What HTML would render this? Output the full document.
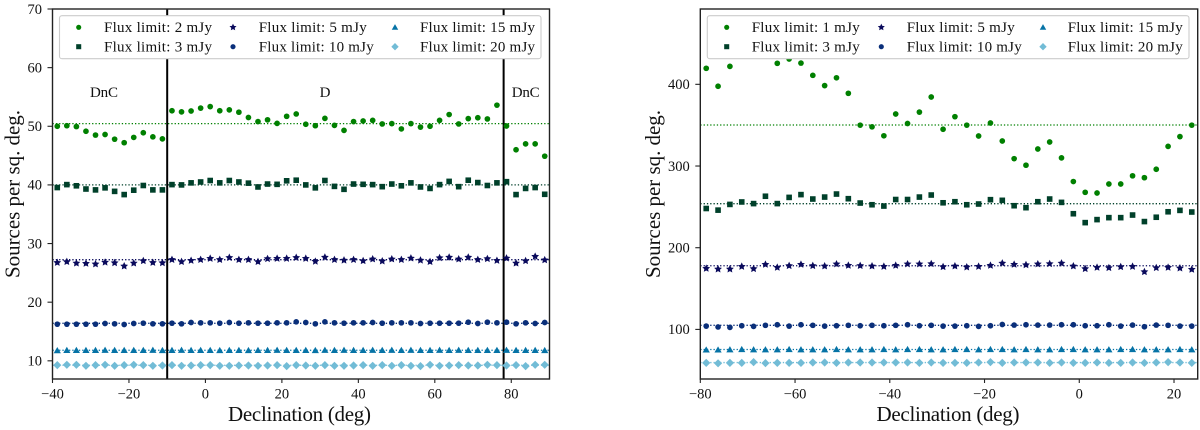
<!DOCTYPE html>
<html lang="en">
<head>
<meta charset="utf-8">
<title>Sources per square degree vs declination</title>
<style>
html,body{margin:0;padding:0;background:#fff;}
svg{display:block;}
text{font-family:"Liberation Serif",serif;fill:#111;}
.tick{font-size:14.5px;}
.leg{font-size:15px;}
.title{font-size:21px;}
.note{font-size:15px;}
</style>
</head>
<body>
<svg id="figure" width="1200" height="430" viewBox="0 0 1200 430" xmlns="http://www.w3.org/2000/svg">
  <rect x="0" y="0" width="1200" height="430" fill="#fff"/>

  <g id="left-panel">
    <g id="left-plot"></g>
    <g id="left-axes"></g>
    <text class="note" x="104" y="97" text-anchor="middle" textLength="28">DnC</text>
    <text class="note" x="325" y="97" text-anchor="middle">D</text>
    <text class="note" x="525.7" y="97" text-anchor="middle" textLength="28">DnC</text>
    <g>
      <rect x="59.5" y="15.7" width="481.5" height="43" rx="2.5" fill="#fff" stroke="#ccc" stroke-width="1.1"/>
      <g id="left-legend-markers"></g>
      <text class="leg" x="104" y="32" textLength="108">Flux limit: 2 mJy</text>
      <text class="leg" x="104" y="51.3" textLength="108">Flux limit: 3 mJy</text>
      <text class="leg" x="258.7" y="32" textLength="108">Flux limit: 5 mJy</text>
      <text class="leg" x="258.7" y="51.3" textLength="115">Flux limit: 10 mJy</text>
      <text class="leg" x="420" y="32" textLength="115">Flux limit: 15 mJy</text>
      <text class="leg" x="420" y="51.3" textLength="115">Flux limit: 20 mJy</text>
    </g>
    <text class="title" transform="translate(19.5,194) rotate(-90)" text-anchor="middle" textLength="168">Sources per sq. deg.</text>
    <text class="title" x="299.5" y="421" text-anchor="middle" textLength="143">Declination (deg)</text>
  </g>

  <g id="right-panel">
    <g id="right-plot"></g>
    <g id="right-axes"></g>
    <g>
      <rect x="707.3" y="15.7" width="481.7" height="43" rx="2.5" fill="#fff" stroke="#ccc" stroke-width="1.1"/>
      <g id="right-legend-markers"></g>
      <text class="leg" x="751.7" y="32" textLength="108">Flux limit: 1 mJy</text>
      <text class="leg" x="751.7" y="51.3" textLength="108">Flux limit: 3 mJy</text>
      <text class="leg" x="906.7" y="32" textLength="108">Flux limit: 5 mJy</text>
      <text class="leg" x="906.7" y="51.3" textLength="115">Flux limit: 10 mJy</text>
      <text class="leg" x="1067.7" y="32" textLength="115">Flux limit: 15 mJy</text>
      <text class="leg" x="1067.7" y="51.3" textLength="115">Flux limit: 20 mJy</text>
    </g>
    <text class="title" transform="translate(660,194) rotate(-90)" text-anchor="middle" textLength="168">Sources per sq. deg.</text>
    <text class="title" x="948" y="421" text-anchor="middle" textLength="143">Declination (deg)</text>
  </g>
</svg>

<script>
// ---------- Left panel data ----------
const leftDeclination = [-38.75,-36.25,-33.75,-31.25,-28.75,-26.25,-23.75,-21.25,-18.75,-16.25,-13.75,-11.25,-8.75,-6.25,-3.75,-1.25,1.25,3.75,6.25,8.75,11.25,13.75,16.25,18.75,21.25,23.75,26.25,28.75,31.25,33.75,36.25,38.75,41.25,43.75,46.25,48.75,51.25,53.75,56.25,58.75,61.25,63.75,66.25,68.75,71.25,73.75,76.25,78.75,81.25,83.75,86.25,88.75];
const left2mJy = [50.0,50.1,49.95,49.15,48.5,48.6,47.8,47.2,48.1,48.9,48.2,47.85,52.65,52.45,52.6,53.1,53.35,52.65,52.8,52.4,51.5,50.8,51.1,50.5,51.7,52.1,50.35,50.1,51.35,50.15,49.3,50.8,50.9,51.0,50.4,50.45,49.55,50.45,49.85,50.0,51.0,52.0,50.4,51.3,51.45,51.25,53.6,50.05,46.0,47.0,47.0,44.9];
const left3mJy = [39.55,40.05,39.85,39.3,39.15,39.5,38.9,38.35,39.1,39.9,39.15,39.15,40.05,40.0,40.35,40.5,40.75,40.35,40.75,40.5,40.3,39.65,40.15,40.1,40.7,40.8,40.0,39.5,40.75,39.75,39.25,40.15,40.1,40.05,39.7,40.15,39.85,40.35,39.65,39.4,40.05,40.6,39.7,40.8,40.4,39.9,40.35,40.55,38.35,39.4,39.55,38.4];
const left5mJy = [26.75,26.9,26.65,26.6,26.5,26.8,26.7,26.15,26.65,27.05,26.75,26.7,27.25,26.9,27.1,27.25,27.45,27.25,27.6,27.25,27.25,26.9,27.4,27.45,27.45,27.6,27.45,26.95,27.65,27.25,27.15,27.25,27.05,27.35,27.0,27.35,27.25,27.5,27.15,26.9,27.55,27.65,27.35,27.65,27.25,27.4,27.1,27.5,26.65,27.05,27.8,27.2];
const left10mJy = [16.25,16.25,16.25,16.25,16.25,16.36,16.31,16.19,16.36,16.42,16.31,16.31,16.42,16.31,16.53,16.48,16.48,16.42,16.53,16.42,16.48,16.42,16.42,16.48,16.48,16.65,16.53,16.31,16.65,16.48,16.42,16.48,16.48,16.53,16.42,16.48,16.48,16.48,16.36,16.42,16.42,16.42,16.42,16.59,16.36,16.59,16.48,16.59,16.31,16.48,16.36,16.53];
const left15mJy = [11.75,11.8,11.8,11.8,11.8,11.82,11.8,11.8,11.8,11.8,11.82,11.78,11.8,11.82,11.8,11.8,11.8,11.78,11.8,11.8,11.78,11.8,11.8,11.82,11.8,11.8,11.8,11.78,11.82,11.8,11.82,11.8,11.8,11.82,11.8,11.82,11.8,11.82,11.8,11.8,11.82,11.8,11.82,11.8,11.8,11.8,11.8,11.82,11.8,11.8,11.8,11.78];
const left20mJy = [9.26,9.32,9.32,9.15,9.26,9.32,9.15,9.26,9.32,9.26,9.15,9.2,9.26,9.15,9.2,9.26,9.26,9.15,9.15,9.2,9.2,9.15,9.2,9.26,9.09,9.26,9.2,9.15,9.26,9.15,9.15,9.2,9.26,9.15,9.26,9.15,9.26,9.15,9.09,9.32,9.15,9.2,9.26,9.2,9.2,9.32,9.26,9.2,9.26,9.09,9.32,9.32];
const leftMeans = [50.45,40.0,27.25,16.4,11.8,9.25];
const leftConfigBoundaries = [-10,78];
const leftXTicks = [-40,-20,0,20,40,60,80];
const leftYTicks = [10,20,30,40,50,60,70];

// ---------- Right panel data ----------
const rightDeclination = [-78.75,-76.25,-73.75,-71.25,-68.75,-66.25,-63.75,-61.25,-58.75,-56.25,-53.75,-51.25,-48.75,-46.25,-43.75,-41.25,-38.75,-36.25,-33.75,-31.25,-28.75,-26.25,-23.75,-21.25,-18.75,-16.25,-13.75,-11.25,-8.75,-6.25,-3.75,-1.25,1.25,3.75,6.25,8.75,11.25,13.75,16.25,18.75,21.25,23.75];
const right1mJy = [419.6,397.6,422,445,452,440,425.7,431,426,411,398.4,408,389,350,348,337,363.7,352,366,384.5,345,360.4,350,336.7,352.7,330.6,309,301,320.8,329.4,310,281,267.8,267,278,278,288,285.7,296,324,336,350];
const right3mJy = [248,246,253,256,254,263,254,261.6,265,259.6,262,265.7,260,254.7,252.6,251,259,259,262,264.5,255,256.3,252.6,253.5,258.8,258,251.4,249,256.3,259.6,255.5,241.6,230.7,234.4,236.8,236.8,240,232,237.3,244,245.7,243.7];
const right5mJy = [174.6,173.8,173.8,177,174.2,179.5,175.8,177.9,179.5,177.9,177.5,180,178.3,178,177.5,177,178.3,180,180,180.3,176.6,177.5,176.2,177,178.3,181,179.5,179,180,180.3,181,177.5,174.2,175.8,175.4,176.6,177,170.5,175.4,175.8,175,173.4];
const right10mJy = [104,103,102.5,104.5,103.7,105,105.7,104,105.7,105,104,104.5,105,104.5,105,104.5,105,105.7,104.5,105,104,104,104.5,103.7,104.5,106,105.3,105.7,105.3,105.3,105.7,105.7,104.5,104.5,105.7,104,105.3,103.3,105.3,105,104,104];
const right15mJy = [75,75,75.2,75.5,75.2,75.2,75.2,75.5,75.2,75.2,75.2,75.5,75.2,75.2,75.2,75.5,75.2,75.5,75.5,75.2,75.2,75.5,75.5,75.2,75.5,75.5,75.2,75.5,75.2,75.2,75.5,75.5,75.2,75.2,75.2,75.5,75.5,75.2,75.2,75.2,75.5,75.2];
const right20mJy = [59,58.5,59,59,60,58.7,59,59,59,59.5,59.5,59,59.5,59.5,59.5,59.5,59.5,59.5,59,59.5,59,59,59,59.5,60,59,59.5,59.5,59.5,59,59.5,59,59,59.5,59,59,59.5,59,59.5,60,59.5,59];
const rightMeans = [350.2,253.9,177.9,105,75.4,59.4];
const rightXTicks = [-80,-60,-40,-20,0,20];
const rightYTicks = [100,200,300,400];

// ---------- Styling (not data) ----------
const seriesColors = ['#008000','#00402a','#0a0a5c','#0a2f7a','#0673a6','#72bcd6'];
const seriesShapes = ['circle','square','star','hexagon','triangle','diamond'];
const seriesKeys = ['flux-a','flux-b','flux-5mjy','flux-10mjy','flux-15mjy','flux-20mjy'];
const SVGNS = 'http://www.w3.org/2000/svg';

function linearScale(d0, d1, r0, r1) {
  return function (v) { return r0 + (v - d0) * (r1 - r0) / (d1 - d0); };
}
function shapeEl(shape, cx, cy, color, scale) {
  let el;
  const k = scale || 1;
  if (shape === 'circle' || shape === 'hexagon') {
    el = document.createElementNS(SVGNS, 'circle');
    el.setAttribute('cx', cx);
    el.setAttribute('cy', cy);
    el.setAttribute('r', 2.85 * k);
  } else if (shape === 'square') {
    el = document.createElementNS(SVGNS, 'rect');
    el.setAttribute('x', cx - 2.8 * k);
    el.setAttribute('y', cy - 2.8 * k);
    el.setAttribute('width', 5.6 * k);
    el.setAttribute('height', 5.6 * k);
  } else {
    let pts = [];
    if (shape === 'triangle') {
      pts = [[cx, cy - 3.5 * k], [cx + 3.6 * k, cy + 2.7 * k], [cx - 3.6 * k, cy + 2.7 * k]];
    } else if (shape === 'diamond') {
      pts = [[cx, cy - 4.1 * k], [cx + 4.1 * k, cy], [cx, cy + 4.1 * k], [cx - 4.1 * k, cy]];
    } else {
      for (let i = 0; i < 10; i++) {
        const r = (i % 2 === 0 ? 4.1 : 2) * k;
        const a = -Math.PI / 2 + i * Math.PI / 5;
        pts.push([cx + r * Math.cos(a), cy + r * Math.sin(a)]);
      }
    }
    el = document.createElementNS(SVGNS, 'polygon');
    el.setAttribute('points', pts.map(function (p) { return p[0].toFixed(2) + ',' + p[1].toFixed(2); }).join(' '));
  }
  el.setAttribute('fill', color);
  return el;
}
function drawPanel(cfg) {
  const plot = document.getElementById(cfg.plotId);
  const axes = document.getElementById(cfg.axesId);
  const x = linearScale(cfg.xDomain[0], cfg.xDomain[1], cfg.box[0], cfg.box[2]);
  const y = linearScale(cfg.yDomain[0], cfg.yDomain[1], cfg.box[3], cfg.box[1]);

  cfg.means.forEach(function (m, s) {
    const line = document.createElementNS(SVGNS, 'line');
    
    
    line.setAttribute('x1', cfg.box[0]);
    line.setAttribute('x2', cfg.box[2]);
    line.setAttribute('y1', y(m));
    line.setAttribute('y2', y(m));
    line.setAttribute('stroke', seriesColors[s]);
    line.setAttribute('stroke-width', 1.3);
    line.setAttribute('stroke-dasharray', '1.3 2');
    plot.appendChild(line);
  });

  cfg.boundaries.forEach(function (b) {
    const line = document.createElementNS(SVGNS, 'line');
    
    
    line.setAttribute('x1', x(b));
    line.setAttribute('x2', x(b));
    line.setAttribute('y1', cfg.box[1]);
    line.setAttribute('y2', cfg.box[3]);
    line.setAttribute('stroke', '#000');
    line.setAttribute('stroke-width', 2);
    plot.appendChild(line);
  });

  cfg.series.forEach(function (vals, s) {
    vals.forEach(function (v, i) {
      const m = shapeEl(seriesShapes[s], x(cfg.dec[i]), y(v), seriesColors[s]);
      
      
      plot.appendChild(m);
    });
  });

  const frame = document.createElementNS(SVGNS, 'rect');
  
  
  frame.setAttribute('x', cfg.box[0]);
  frame.setAttribute('y', cfg.box[1]);
  frame.setAttribute('width', cfg.box[2] - cfg.box[0]);
  frame.setAttribute('height', cfg.box[3] - cfg.box[1]);
  frame.setAttribute('fill', 'none');
  frame.setAttribute('stroke', '#222');
  frame.setAttribute('stroke-width', 1.4);
  axes.appendChild(frame);

  cfg.xTicks.forEach(function (t) {
    const mark = document.createElementNS(SVGNS, 'line');
    
    
    mark.setAttribute('x1', x(t));
    mark.setAttribute('x2', x(t));
    mark.setAttribute('y1', cfg.box[3]);
    mark.setAttribute('y2', cfg.box[3] + 4);
    mark.setAttribute('stroke', '#222');
    mark.setAttribute('stroke-width', 1.1);
    axes.appendChild(mark);
    const lab = document.createElementNS(SVGNS, 'text');
    
    
    lab.setAttribute('class', 'tick');
    lab.setAttribute('x', x(t));
    lab.setAttribute('y', 398.5);
    lab.setAttribute('text-anchor', 'middle');
    lab.textContent = String(t).replace('-', '\u2212');
    axes.appendChild(lab);
  });

  cfg.yTicks.forEach(function (t) {
    const mark = document.createElementNS(SVGNS, 'line');
    
    
    mark.setAttribute('x1', cfg.box[0] - 5);
    mark.setAttribute('x2', cfg.box[0]);
    mark.setAttribute('y1', y(t));
    mark.setAttribute('y2', y(t));
    mark.setAttribute('stroke', '#222');
    mark.setAttribute('stroke-width', 1.1);
    axes.appendChild(mark);
    const lab = document.createElementNS(SVGNS, 'text');
    
    
    lab.setAttribute('class', 'tick');
    lab.setAttribute('x', cfg.box[0] - 10.5);
    lab.setAttribute('y', y(t) + 4.8);
    lab.setAttribute('text-anchor', 'end');
    lab.textContent = String(t);
    axes.appendChild(lab);
  });

  const legend = document.getElementById(cfg.legendId);
  cfg.legendPos.forEach(function (p, s) {
    const m = shapeEl(seriesShapes[s], p[0], p[1], seriesColors[s], 0.9);
    
    
    legend.appendChild(m);
  });
}

drawPanel({
  prefix: 'left', plotId: 'left-plot', axesId: 'left-axes', legendId: 'left-legend-markers',
  box: [52.5, 9, 549.5, 379], xDomain: [-40, 90], yDomain: [6.9, 70],
  dec: leftDeclination,
  series: [left2mJy, left3mJy, left5mJy, left10mJy, left15mJy, left20mJy],
  means: leftMeans, boundaries: leftConfigBoundaries,
  xTicks: leftXTicks, yTicks: leftYTicks,
  legendPos: [[78.7,27.3],[78.7,46.7],[233,27.3],[233,46.7],[395,27.3],[395,46.7]]
});
drawPanel({
  prefix: 'right', plotId: 'right-plot', axesId: 'right-axes', legendId: 'right-legend-markers',
  box: [700.3, 9, 1197.7, 379], xDomain: [-80, 25], yDomain: [39.3, 492.2],
  dec: rightDeclination,
  series: [right1mJy, right3mJy, right5mJy, right10mJy, right15mJy, right20mJy],
  means: rightMeans, boundaries: [],
  xTicks: rightXTicks, yTicks: rightYTicks,
  legendPos: [[726.7,27.3],[726.7,46.7],[881.3,27.3],[881.3,46.7],[1043,27.3],[1043,46.7]]
});
</script>
</body>
</html>
